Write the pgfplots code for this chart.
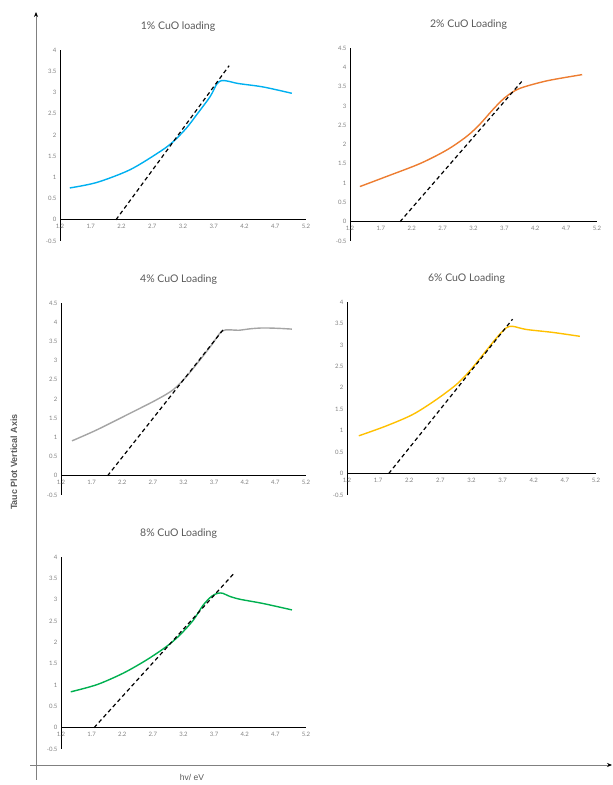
\documentclass[border=0pt]{standalone}
\usepackage{fontspec}
\setmainfont{Lato}
\newfontfamily\arialfont{Liberation Sans}
\usepackage{pgfplots}
\pgfplotsset{compat=1.18}
\usetikzlibrary{arrows.meta}
\definecolor{cblue}{RGB}{0,176,240}
\definecolor{corange}{RGB}{237,125,49}
\definecolor{cgray}{RGB}{165,165,165}
\definecolor{cgold}{RGB}{255,192,0}
\definecolor{cgreen}{RGB}{0,176,80}
\definecolor{titlegray}{RGB}{89,89,89}
\pgfplotsset{
  tauc/.style={
    scale only axis, anchor=south west,
    xmin=1.2, xmax=5.2, ymin=-0.5,
    axis x line=middle, axis y line=left,
    axis line style={-, black, line width=0.8pt},
    xtick={1.2,1.7,2.2,2.7,3.2,3.7,4.2,4.7,5.2},
    hide obscured x ticks=false,
    hide obscured y ticks=false,
    major tick length=0pt,
    /pgf/number format/assume math mode=true,
    tick label style={font=\fontsize{6}{7}\selectfont, text=gray},
    xticklabel style={yshift=-1pt},
    title style={at={(0.48,1)}, anchor=center, yshift=17pt, font=\fontsize{10.5}{12}\selectfont, text=titlegray},
    clip=false,
  },
  curve/.style={line width=1.4pt, no marks, smooth, tension=0.5},
  tang/.style={black, line width=1.2pt, no marks, dash pattern=on 4pt off 3pt},
}
\begin{document}
\begin{tikzpicture}
\useasboundingbox (0pt,0pt) rectangle (613pt,785pt);
% outer axes
\draw[gray, line width=0.8pt, -{Stealth[length=5pt,width=4pt,black]}] (36pt,5pt) -- (36pt,773pt);
\draw[gray, line width=0.8pt, -{Stealth[length=5pt,width=4pt,black]}] (30pt,20pt) -- (612pt,20pt);
\node[rotate=90, font=\arialfont\fontsize{9}{11}\selectfont\bfseries, text=titlegray] at (14pt,323pt) {Tauc Plot Vertical Axis};
\node[font=\arialfont\fontsize{8.5}{10}\selectfont, text=titlegray] at (192pt,8pt) {hv/ eV};

% 1%
\begin{axis}[tauc, at={(60pt,544pt)}, width=246pt, height=191pt, ymax=4,
  ytick={-0.5,0,0.5,1,1.5,2,2.5,3,3.5,4}, title={1\% CuO loading}]
\addplot[curve, cblue] coordinates {(1.36,0.75) (1.8,0.88) (2.34,1.18) (2.83,1.61) (3.04,1.84) (3.25,2.15) (3.42,2.47) (3.64,2.90) (3.75,3.20) (3.83,3.28) (3.95,3.26) (4.1,3.21) (4.5,3.13) (4.97,2.98)};
\addplot[tang] coordinates {(2.11,0) (3.95,3.63)};
\end{axis}

% 2%
\begin{axis}[tauc, at={(350pt,544pt)}, width=247pt, height=193pt, ymax=4.5,
  ytick={-0.5,0,0.5,1,1.5,2,2.5,3,3.5,4,4.5}, title={2\% CuO Loading}]
\addplot[curve, corange] coordinates {(1.36,0.91) (1.79,1.17) (2.34,1.51) (2.77,1.86) (3.09,2.21) (3.3,2.52) (3.5,2.88) (3.65,3.13) (3.77,3.29) (3.96,3.46) (4.39,3.65) (4.96,3.81)};
\addplot[tang] coordinates {(2.01,0) (3.98,3.63)};
\end{axis}

% 4%
\begin{axis}[tauc, at={(61pt,290pt)}, width=245pt, height=192pt, ymax=4.5,
  ytick={-0.5,0,0.5,1,1.5,2,2.5,3,3.5,4,4.5}, title={4\% CuO Loading}]
\addplot[curve, cgray] coordinates {(1.38,0.91) (1.79,1.20) (2.33,1.63) (2.76,1.98) (3.03,2.24) (3.25,2.59) (3.47,3.02) (3.66,3.41) (3.82,3.76) (3.95,3.80) (4.1,3.79) (4.3,3.83) (4.5,3.85) (4.75,3.84) (4.97,3.82)};
\addplot[tang] coordinates {(1.96,0) (3.87,3.85)};
\end{axis}

% 6%
\begin{axis}[tauc, at={(347pt,290pt)}, width=249pt, height=193pt, ymax=4,
  ytick={-0.5,0,0.5,1,1.5,2,2.5,3,3.5,4}, title={6\% CuO Loading}]
\addplot[curve, cgold] coordinates {(1.39,0.88) (1.83,1.11) (2.26,1.38) (2.64,1.73) (2.96,2.08) (3.17,2.39) (3.39,2.78) (3.60,3.16) (3.76,3.40) (3.87,3.43) (4.08,3.36) (4.51,3.29) (4.94,3.20)};
\addplot[tang] coordinates {(1.87,0) (3.86,3.60)};
\end{axis}

% 8%
\begin{axis}[tauc, at={(61pt,36pt)}, width=245pt, height=192pt, ymax=4,
  ytick={-0.5,0,0.5,1,1.5,2,2.5,3,3.5,4}, title={8\% CuO Loading}]
\addplot[curve, cgreen] coordinates {(1.36,0.84) (1.79,1.01) (2.22,1.28) (2.60,1.59) (2.92,1.90) (3.14,2.17) (3.36,2.52) (3.52,2.87) (3.66,3.08) (3.76,3.15) (3.84,3.15) (3.95,3.08) (4.12,3.01) (4.5,2.91) (4.97,2.76)};
\addplot[tang] coordinates {(1.74,0) (4.02,3.61)};
\end{axis}
\end{tikzpicture}
\end{document}
